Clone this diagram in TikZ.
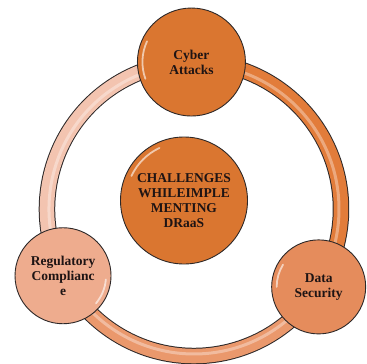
\documentclass[tikz,border=0pt]{standalone}
\usepackage{fontspec}
\setmainfont{Liberation Serif}[BoldFont={Liberation Serif Bold}]
\usetikzlibrary{calc}

\definecolor{deeporange}{RGB}{218,118,48}
\definecolor{midorange}{RGB}{229,140,92}
\definecolor{peach}{RGB}{238,172,142}
\definecolor{ringlight}{RGB}{243,196,176}
\definecolor{ringdeep}{RGB}{226,124,58}
\definecolor{ringmid}{RGB}{234,152,108}
\definecolor{rimline}{RGB}{45,40,40}
\definecolor{labeltext}{RGB}{30,20,20}

\pgfdeclarelayer{paper}
\pgfdeclarelayer{back}
\pgfsetlayers{paper,back,main}

\tikzset{
  bubble/.style={circle, draw=rimline, line width=0.9pt, inner sep=0pt,
    align=center, text=labeltext,
    font=\fontsize{13.5}{15}\selectfont\bfseries},
  tubeedge/.style={line width=16.5pt, draw=rimline},
  tubefill/.style={line width=14.5pt},
  tubeshine/.style={line width=3pt, draw=white, opacity=0.35},
  shine/.style={draw=white, line width=1.8pt, opacity=0.6, line cap=round},
}

\begin{document}
\begin{tikzpicture}[x=1pt, y=-1pt]
  \useasboundingbox (0,0) rectangle (367,364);
  \begin{pgfonlayer}{paper}
    \fill[white] (0,0) rectangle (367,364);
  \end{pgfonlayer}

  % ring that carries the three topics
  \coordinate (ringc) at (194,209);
  \def\R{147}

  % central topic
  \node[bubble, fill=deeporange, minimum size=127pt] (hub) at (184,200.5)
    {CHALLENGES\\WHILEIMPLE\\MENTING\\DRaaS};

  % topics sitting on the ring
  \node[bubble, fill=deeporange, minimum size=108pt] (cyber) at ($(ringc)+(269:\R)$)
    {Cyber\\Attacks};
  \node[bubble, fill=midorange, minimum size=94pt] (data) at ($(ringc)+(32:\R)$)
    {Data\\Security};
  \node[bubble, fill=peach, minimum size=96pt] (reg) at ($(ringc)+(153:\R)$)
    {Regulatory\\Complianc\\e};

  % glossy rims on the bubbles
  \draw[shine] ($(hub)+(205:58)$) arc[start angle=205, end angle=245, radius=58];
  \draw[shine] ($(cyber)+(160:49)$) arc[start angle=160, end angle=205, radius=49];
  \draw[shine] ($(data)+(180:42)$) arc[start angle=180, end angle=212, radius=42];
  \draw[shine] ($(reg)+(5:43)$) arc[start angle=5, end angle=40, radius=43];

  % ring segments joining the topics
  \begin{pgfonlayer}{back}
    \draw[tubeedge] (cyber.center) arc[start angle=269, end angle=392, radius=\R];
    \draw[tubeedge] (data.center) arc[start angle=32, end angle=153, radius=\R];
    \draw[tubeedge] (reg.center) arc[start angle=153, end angle=269, radius=\R];
    \draw[tubefill, draw=ringdeep] (cyber.center) arc[start angle=269, end angle=392, radius=\R];
    \draw[tubefill, draw=ringmid] (data.center) arc[start angle=32, end angle=153, radius=\R];
    \draw[tubefill, draw=ringlight] (reg.center) arc[start angle=153, end angle=269, radius=\R];
    \draw[tubeshine] ($(ringc)+(269:\R-2)$) arc[start angle=269, end angle=512, radius=\R-2];
    \draw[tubeshine] ($(ringc)+(153:\R-2)$) arc[start angle=153, end angle=269, radius=\R-2];
  \end{pgfonlayer}
\end{tikzpicture}
\end{document}
